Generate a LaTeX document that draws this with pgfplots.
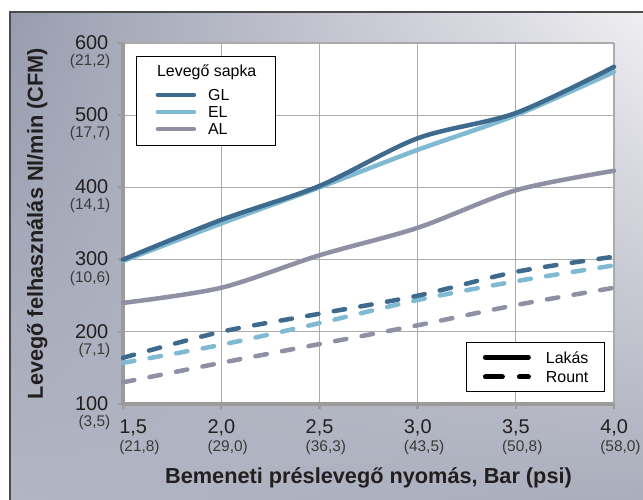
\documentclass[border=0pt]{standalone}
\usepackage{fontspec}
\setmainfont{Liberation Sans}
\usepackage{pgfplots}
\pgfplotsset{compat=1.18}
\usetikzlibrary{shadings}
\definecolor{cGL}{HTML}{3E6A8E}
\definecolor{cEL}{HTML}{80BAD2}
\definecolor{cAL}{HTML}{8F90A3}
\definecolor{txt}{HTML}{231F20}
\definecolor{sub}{HTML}{3A3A3A}
\definecolor{gridc}{HTML}{ABABAB}
\definecolor{axc}{HTML}{9B9B9B}
\definecolor{bgUL}{HTML}{989CAE}
\definecolor{bgUR}{HTML}{EFEFF2}
\definecolor{bgLL}{HTML}{B2B5C3}
\definecolor{bgLR}{HTML}{AAADBB}
\newcommand\ytl[2]{\begin{tabular}[t]{@{}r@{}}\fontsize{20}{20}\selectfont\color{txt}#1\kern2bp\\[1bp]\fontsize{15.5}{15.5}\selectfont\color{sub}#2\end{tabular}}
\newcommand\xtl[2]{\begin{tabular}[t]{@{}l@{}}\fontsize{20}{20}\selectfont\color{txt}#1\\[2.6bp]\fontsize{15.5}{15.5}\selectfont\color{sub}#2\end{tabular}}
\newcommand\lst{\rule[-2bp]{0pt}{15.5bp}}
\begin{document}
\begin{tikzpicture}
\useasboundingbox (0,0) rectangle (643bp,500bp);
\shade[upper left=bgUL, upper right=bgUR, lower left=bgLL, lower right=bgLR] (10bp,0bp) rectangle (643bp,488bp);
\draw[line width=1.5bp, color=black!70] (10bp,0bp) -- (10bp,488bp) -- (643bp,488bp);
\begin{axis}[
  at={(123bp,96bp)}, anchor=south west,
  scale only axis, width=491bp, height=361bp,
  xmin=1.5, xmax=4, ymin=100, ymax=600,
  axis x line*=bottom, axis y line*=left,
  axis line style={-, draw=axc, line width=3bp},
  axis background/.style={fill=white},
  grid=major, major grid style={draw=gridc, line width=1.2bp},
  tick align=outside, major tick length=5bp,
  every tick/.style={draw=axc, line width=2.5bp},
  clip=false,
  ticklabel style={font=\fontsize{14}{14}\selectfont, inner sep=0pt},
  xtick={1.5,2,2.5,3,3.5,4},
  xticklabels={\xtl{\kern10bp 1,5}{\kern10bp(21,8)},\xtl{2,0}{(29,0)},\xtl{2,5}{(36,3)},\xtl{3,0}{(43,5)},\xtl{3,5}{(50,8)},\xtl{4,0}{(58,0)}},
  xticklabel style={anchor=base west, xshift=-13.9bp, yshift=-24.5bp},
  ytick={100,200,300,400,500,600},
  yticklabels={\ytl{100}{(3,5)},\ytl{200}{(7,1)},\ytl{300}{(10,6)},\ytl{400}{(14,1)},\ytl{500}{(17,7)},\ytl{600}{(21,2)}},
  yticklabel style={anchor=base east, xshift=-7.5bp, yshift=-6.2bp},
  xlabel={Bemeneti préslevegő nyomás, Bar (psi)},
  ylabel={Levegő felhasználás Nl/min (CFM)},
  label style={font=\fontsize{21.8}{22}\selectfont\bfseries, text=txt},
  xlabel style={at={(axis description cs:0.5,0)}, anchor=base, yshift=-79bp},
  ylabel style={at={(axis description cs:-0.163,0.5)}, anchor=base, rotate=0},
  legend image code/.code={\draw[#1, line cap=round] (0bp,0bp) -- (36bp,0bp);},
  legend cell align=left,
  legend style={at={(axis description cs:0.0265,0.964)}, anchor=north west,
    draw=black, line width=1.2bp, fill=white,
    font=\fontsize{16}{16}\selectfont,
    inner xsep=19bp, inner ysep=9bp, row sep=2bp,
    nodes={inner sep=0pt},
    /tikz/every odd column/.append style={column sep=12bp}},
]
\addlegendimage{white, line width=0.1bp}\addlegendentry{\hspace*{-51bp}\raisebox{7.5bp}[18.25bp][0pt]{Levegő sapka}}
\addlegendimage{cGL, line width=4.5bp}\addlegendentry{\lst GL}
\addlegendimage{cEL, line width=4.5bp}\addlegendentry{\lst EL}
\addlegendimage{cAL, line width=4.5bp}\addlegendentry{\lst AL}
% dashed (Rount)
\addplot[forget plot, smooth, cAL, line width=4.5bp, line cap=round, dash pattern=on 11.5bp off 15.5bp] coordinates {(1.5,130) (2.0,157) (2.5,183) (3.0,209) (3.5,237) (4.0,261)};
\addplot[forget plot, smooth, cEL, line width=4.5bp, line cap=round, dash pattern=on 11.5bp off 15.5bp] coordinates {(1.5,157) (2.0,182) (2.5,212) (3.0,244) (3.5,270) (4.0,292)};
\addplot[forget plot, smooth, cGL, line width=4.5bp, line cap=round, dash pattern=on 11.5bp off 15.5bp] coordinates {(1.5,164) (2.0,200) (2.5,225) (3.0,250) (3.5,283) (4.0,304)};
% solid (Lakás)
\addplot[forget plot, smooth, cAL, line width=4.5bp, line cap=round] coordinates {(1.5,240) (2.0,261) (2.5,306) (3.0,344) (3.5,396) (4.0,423)};
\addplot[forget plot, smooth, cEL, line width=4.5bp, line cap=round] coordinates {(1.5,298) (2.0,350) (2.5,400) (3.0,452) (3.5,500) (4.0,560)};
\addplot[forget plot, smooth, cGL, line width=4.5bp, line cap=round] coordinates {(1.5,300) (2.0,355) (2.5,402) (3.0,468) (3.5,503) (4.0,567)};
\end{axis}
\begin{axis}[
  at={(123bp,96bp)}, anchor=south west,
  scale only axis, width=491bp, height=361bp,
  xmin=0, xmax=1, ymin=0, ymax=1, hide axis,
  legend image code/.code={\draw[#1] (0bp,0bp) -- (43bp,0bp);},
  legend cell align=left,
  legend style={at={(axis description cs:0.9817,0.1717)}, anchor=north east,
    draw=black, line width=1.2bp, fill=white,
    font=\fontsize{16}{16}\selectfont,
    inner xsep=16bp, inner ysep=7.25bp, row sep=4.5bp,
    nodes={inner sep=0pt},
    /tikz/every odd column/.append style={column sep=15bp}},
]
\addlegendimage{black, line width=5bp, line cap=round}\addlegendentry{\lst Lakás}
\addlegendimage{black, line width=5bp, line cap=round, dash pattern=on 17bp off 17bp}\addlegendentry{\lst Rount}
\end{axis}
\end{tikzpicture}
\end{document}
